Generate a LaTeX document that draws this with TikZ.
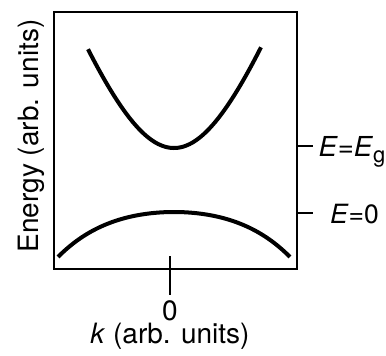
\documentclass[tikz,border=0pt]{standalone}
\usepackage{fontspec}
\setmainfont{TeX Gyre Heros}
\begin{document}
\begin{tikzpicture}[x=1pt,y=-1pt,
  every node/.style={inner sep=0pt, outer sep=0pt},
  lbl/.style={font=\fontsize{28}{33}\selectfont},
  frame/.style={draw, line width=2.8pt, minimum width=243pt, minimum height=257pt},
  tick/.style={line width=2.8pt},
  band/.style={line width=4pt, samples=120}]
\useasboundingbox (0,0) rectangle (386,356);
\node[frame] (box) at (175.5,140.5) {};
% ticks
\coordinate (t0in) at (170,256);
\coordinate (t0out) at (170,295);
\draw[tick] (t0in) -- (t0out);
\coordinate (tg) at (313,146);
\coordinate (tz) at (313,213);
\draw[tick] (box.east |- tg) -- (tg);
\draw[tick] (box.east |- tz) -- (tz);
% bands
\draw[band, domain=-86:87] plot ({\x+174}, {148-275*(sqrt(0.7225+(\x/100)^2)-0.85)});
\draw[band, domain=-116:116] plot ({\x+174}, {212+23.39*(\x/100)^2+7.46*(\x/100)^4});
% labels
\node[lbl, anchor=base] (zero) at (170,320) {0};
\node[lbl, anchor=base] (klab) at (170,343) {\textit{k} (arb. units)};
\node[lbl, rotate=90, anchor=base] (elab) at (38.5,136) {Energy (arb. units)};
\node[anchor=base west] (eg) at (318.5,156.7) {\fontsize{27.5}{32}\selectfont\textit{E}=\textit{E}\raisebox{-6pt}{\fontsize{22}{26}\selectfont g}};
\node[anchor=base west] (ez) at (330,223) {\fontsize{26.5}{30}\selectfont\textit{E}=0};
\end{tikzpicture}
\end{document}
